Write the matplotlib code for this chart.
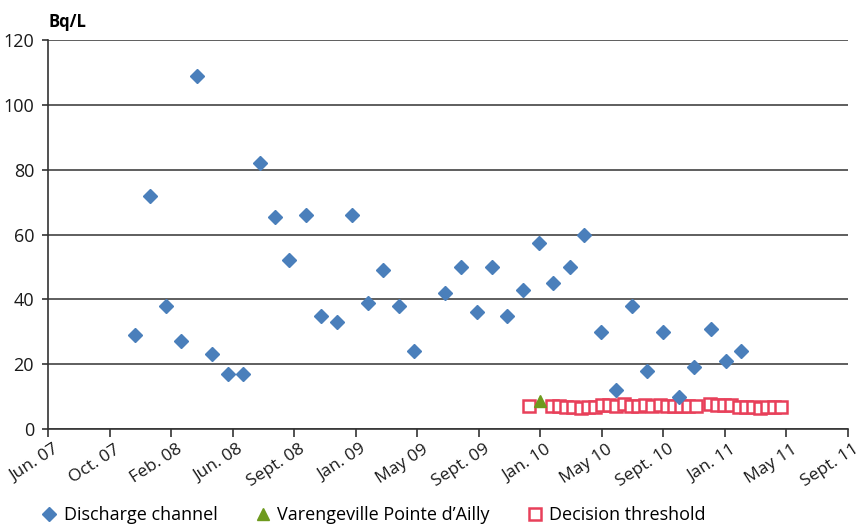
import numpy as np
import matplotlib
matplotlib.use('Agg')
import matplotlib.pyplot as plt
import matplotlib.dates as mdates
import matplotlib.transforms as mtransforms

plt.rcParams['font.family'] = ['Open Sans', 'DejaVu Sans']

# discharge channel samples (Bq/L)
discharge_dates = ['2007-11-28', '2007-12-27', '2008-01-27', '2008-02-25', '2008-03-27',
                   '2008-04-25', '2008-05-26', '2008-06-24', '2008-07-25', '2008-08-23',
                   '2008-09-21', '2008-10-23', '2008-11-21', '2008-12-22', '2009-01-20',
                   '2009-02-20', '2009-03-21', '2009-04-21', '2009-05-20', '2009-07-19',
                   '2009-08-19', '2009-09-19', '2009-10-18', '2009-11-16', '2009-12-17',
                   '2010-01-17', '2010-02-13', '2010-03-17', '2010-04-14', '2010-05-16',
                   '2010-06-14', '2010-07-15', '2010-08-13', '2010-09-13', '2010-10-14',
                   '2010-11-12', '2010-12-15', '2011-01-13', '2011-02-11']
discharge_vals = [29, 72, 38, 27, 109, 23, 17, 17, 82, 65.5,
                  52, 66, 35, 33, 66, 39, 49, 38, 24, 42,
                  50, 36, 50, 35, 43, 57.5, 45, 50, 60, 30,
                  12, 38, 18, 30, 10, 19, 31, 21, 24]

# Varengeville Pointe d'Ailly
vareng_dates = ['2010-01-19']
vareng_vals = [8.6]

# decision threshold
thresh_dates = ['2009-12-28', '2010-02-11', '2010-02-24', '2010-03-10', '2010-03-23',
                '2010-04-08', '2010-04-21', '2010-05-05', '2010-05-18', '2010-06-01',
                '2010-06-14', '2010-06-30', '2010-07-13', '2010-07-27', '2010-08-09',
                '2010-08-23', '2010-09-07', '2010-09-21', '2010-10-04', '2010-10-18',
                '2010-10-31', '2010-11-16', '2010-12-13', '2010-12-26', '2011-01-09',
                '2011-01-22', '2011-02-07', '2011-02-20', '2011-03-06', '2011-03-19',
                '2011-04-02', '2011-04-16', '2011-04-29']
thresh_vals = [7.2, 7.0, 7.0, 6.8, 6.7, 6.6, 6.7, 6.8, 7.3, 7.4,
               7.2, 7.6, 7.0, 7.2, 7.3, 7.1, 7.3, 7.2, 7.1, 7.2,
               7.2, 7.0, 7.6, 7.5, 7.4, 7.3, 6.9, 6.8, 6.7, 6.6,
               6.7, 6.8, 6.9]

tick_dates = ['2007-06-12', '2007-10-09', '2008-02-05', '2008-06-03', '2008-09-30',
              '2009-01-27', '2009-05-26', '2009-09-22', '2010-01-19', '2010-05-18',
              '2010-09-14', '2011-01-11', '2011-05-10', '2011-09-06']
tick_labels = ['Jun. 07', 'Oct. 07', 'Feb. 08', 'Jun. 08', 'Sept. 08', 'Jan. 09',
               'May 09', 'Sept. 09', 'Jan. 10', 'May 10', 'Sept. 10', 'Jan. 11',
               'May 11', 'Sept. 11']

to_d = lambda lst: mdates.date2num(np.array(lst, dtype='datetime64[D]'))

fig = plt.figure(figsize=(8.65, 5.26), dpi=100)
ax = fig.add_axes([48/865, 97/526, 800/865, 389/526])

ax.plot(to_d(thresh_dates), thresh_vals, linestyle='none', marker='s', markersize=8.5,
        markerfacecolor='white', markeredgecolor='#e8405a', markeredgewidth=1.8,
        label='Decision threshold', zorder=3)
ax.plot(to_d(discharge_dates), discharge_vals, linestyle='none', marker='D', markersize=7.5,
        color='#4a7fbb', label='Discharge channel', zorder=4)
ax.plot(to_d(vareng_dates), vareng_vals, linestyle='none', marker='^', markersize=8,
        color='#6e9a1e', label="Varengeville Pointe d\u2019Ailly", zorder=5)

ax.set_ylim(0, 120)
ax.set_yticks(np.arange(0, 121, 20))
ax.set_xlim(to_d(tick_dates)[0], to_d(tick_dates)[-1])
ax.set_xticks(to_d(tick_dates))
ax.set_xticklabels(tick_labels, rotation=33, ha='right', rotation_mode='anchor')
ax.grid(axis='y', color='#333333', linewidth=1.1)
ax.set_axisbelow(True)
for s in ['top', 'right']:
    ax.spines[s].set_visible(False)
ax.spines['left'].set_color('#333333')
ax.spines['bottom'].set_color('#333333')
ax.spines['left'].set_linewidth(1.2)
ax.spines['bottom'].set_linewidth(1.2)
ax.tick_params(axis='x', direction='out', length=6, width=1.2, color='#333333',
               labelsize=12.5, pad=3, labelcolor='#1a1a1a')
ax.tick_params(axis='y', direction='out', length=4, width=1.2, color='#333333',
               labelsize=13, pad=6, labelcolor='#1a1a1a')

# shift rotated labels a little to the right, like the original
offset = mtransforms.ScaledTranslation(5/100, 0, fig.dpi_scale_trans)
for lbl in ax.get_xticklabels():
    lbl.set_transform(lbl.get_transform() + offset)

fig.text(49/865, 1 - 22/526, 'Bq/L', fontsize=12, fontweight='bold', va='center', ha='left')

handles, labels = ax.get_legend_handles_labels()
order = [1, 2, 0]
fig.legend([handles[i] for i in order], [labels[i] for i in order],
           loc='center left', bbox_to_anchor=(33/865, 1 - 515/526), ncol=3,
           frameon=False, fontsize=13, handletextpad=0.3, columnspacing=2.0,
           handlelength=1.0, borderaxespad=0)

fig.savefig('out.png', dpi=100)
